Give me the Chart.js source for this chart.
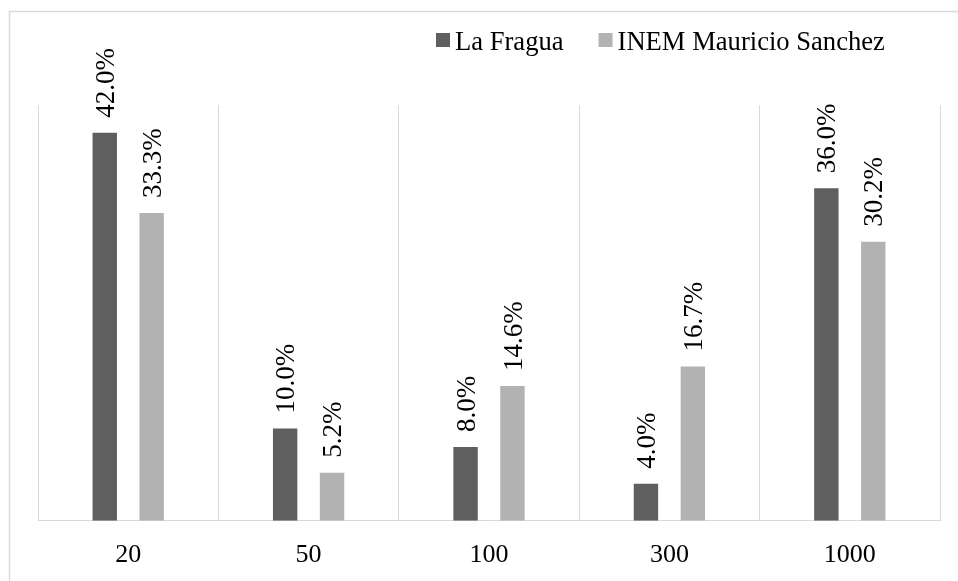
<!DOCTYPE html>
<html>
<head>
<meta charset="utf-8">
<script src="https://cdn.jsdelivr.net/npm/chart.js@4.4.1/dist/chart.umd.min.js"></script>
<style>
  html, body { margin: 0; padding: 0; background: #fff; }
  #wrap { width: 958px; height: 581px; position: relative; }
</style>
</head>
<body>
<div id="wrap"><canvas id="chart"></canvas></div>
<script>
// ------------------------------------------------------------
// Data
// ------------------------------------------------------------
const categories = ['20', '50', '100', '300', '1000'];
const laFragua = [42.0, 10.0, 8.0, 4.0, 36.0];
const inem = [33.3, 5.2, 14.6, 16.7, 30.2];
const seriesNames = ['La Fragua', 'INEM Mauricio Sanchez'];
const seriesColors = ['#5f5f5f', '#b2b2b2'];

const FONT = '"Liberation Serif", "Times New Roman", serif';

// Light frame around the whole picture (top and left edges visible)
const framePlugin = {
  id: 'frame',
  beforeDraw(chart) {
    const ctx = chart.ctx;
    ctx.save();
    ctx.fillStyle = '#fff';
    ctx.fillRect(0, 0, chart.width, chart.height);
    ctx.strokeStyle = '#d9d9d9';
    ctx.lineWidth = 1.5;
    ctx.strokeRect(9.5, 11.5, chart.width + 10, chart.height + 10);
    ctx.restore();
  }
};

// Rotated value labels above each bar
const barLabelPlugin = {
  id: 'barLabels',
  afterDatasetsDraw(chart) {
    const ctx = chart.ctx;
    ctx.save();
    ctx.font = '27px ' + FONT;
    ctx.fillStyle = '#000';
    ctx.textAlign = 'left';
    ctx.textBaseline = 'middle';
    chart.data.datasets.forEach((ds, i) => {
      chart.getDatasetMeta(i).data.forEach((bar, j) => {
        ctx.save();
        ctx.translate(bar.x + 2, bar.y - 15);
        ctx.rotate(-Math.PI / 2);
        ctx.fillText(ds.data[j].toFixed(1) + '%', 0, 0);
        ctx.restore();
      });
    });
    ctx.restore();
  }
};

// Legend drawn by hand (tight box-to-text gap like the original)
const legendPlugin = {
  id: 'customLegend',
  afterDraw(chart) {
    const ctx = chart.ctx;
    ctx.save();
    ctx.font = '26.6px ' + FONT;
    ctx.textBaseline = 'alphabetic';
    let x = 436;
    chart.data.datasets.forEach(ds => {
      ctx.fillStyle = ds.backgroundColor;
      ctx.fillRect(x, 33, 14, 14);
      ctx.fillStyle = '#000';
      ctx.fillText(ds.label, x + 19, 50);
      x += 19 + ctx.measureText(ds.label).width + 35;
    });
    ctx.restore();
  }
};

new Chart(document.getElementById('chart'), {
  type: 'bar',
  data: {
    labels: categories,
    datasets: [
      { label: seriesNames[0], data: laFragua, backgroundColor: seriesColors[0] },
      { label: seriesNames[1], data: inem, backgroundColor: seriesColors[1] },
    ]
  },
  options: {
    responsive: true,
    maintainAspectRatio: false,
    animation: false,
    layout: { padding: { left: 38, right: 18, top: 105, bottom: -9 } },
    datasets: { bar: { categoryPercentage: 0.52, barPercentage: 0.52 } },
    plugins: { legend: { display: false }, tooltip: { enabled: false } },
    scales: {
      y: { display: false, min: 0, max: 45 },
      x: {
        grid: { color: '#d9d9d9', drawTicks: false },
        border: { color: '#d9d9d9' },
        ticks: { color: '#000', padding: 19, font: { family: FONT, size: 26 } }
      }
    }
  },
  plugins: [framePlugin, barLabelPlugin, legendPlugin]
});
</script>
</body>
</html>
